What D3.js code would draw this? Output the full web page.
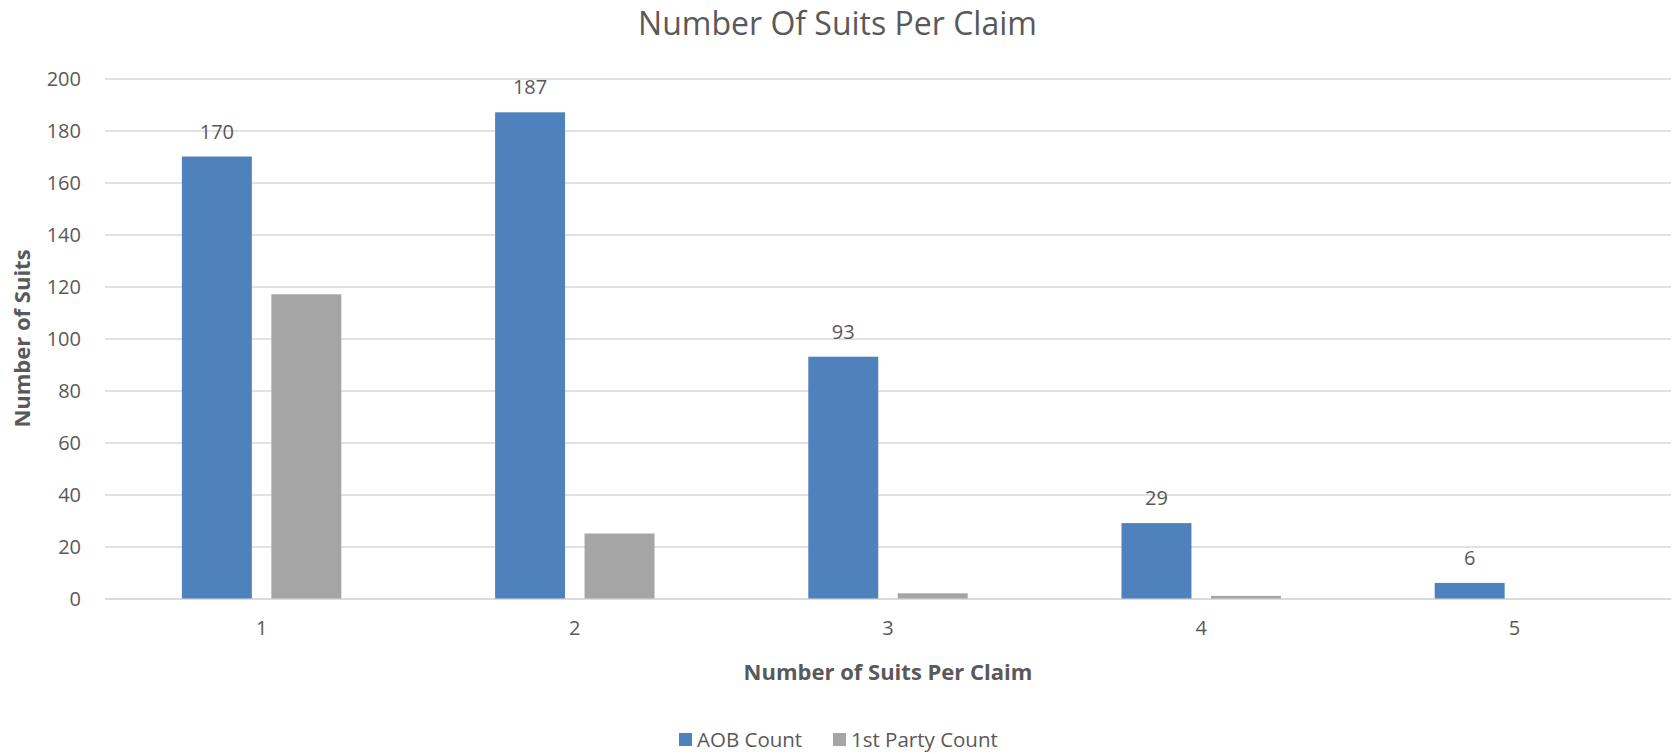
<!DOCTYPE html>
<html>
<head>
<meta charset="utf-8">
<script src="https://cdn.jsdelivr.net/npm/d3@7"></script>
<style>
    body { margin: 0; background: #fff; }
    text { font-family: "Open Sans", sans-serif; fill: #595959; }
    .axis path, .axis line { stroke: #d9d9d9; }
</style>
</head>
<body>
<div id="chart"></div>
<script>
// Data
const categories = ['1', '2', '3', '4', '5'];
const aobCount = [170, 187, 93, 29, 6];
const firstPartyCount = [117, 25, 2, 1, 0];
const seriesNames = ['AOB Count', '1st Party Count'];
const seriesColors = ['#4f81bd', '#a5a5a5'];
const yTicks = [0, 20, 40, 60, 80, 100, 120, 140, 160, 180, 200];

const dataSet = categories.map((c, i) => ({
    cat: c,
    values: [aobCount[i], firstPartyCount[i]]
}));

// Dimensions
let dimensions = {
    width: 1675,
    height: 754,
    margin: {
        top: 78.5,
        bottom: 155.5,
        left: 105,
        right: 4
    }
};
dimensions.ctrWidth = dimensions.width - dimensions.margin.left - dimensions.margin.right;
dimensions.ctrHeight = dimensions.height - dimensions.margin.top - dimensions.margin.bottom;

// Scales
const xScale = d3.scaleBand()
    .domain(categories)
    .range([0, dimensions.ctrWidth]);

const groupWidth = xScale.bandwidth() * 0.509;
const xSeries = d3.scaleBand()
    .domain(d3.range(seriesNames.length))
    .range([0, groupWidth])
    .paddingInner(0.218);

const yScale = d3.scaleLinear()
    .domain([0, 200])
    .range([dimensions.ctrHeight, 0]);

// Draw Image
const svg = d3.select('#chart')
    .append('svg')
    .attr('width', dimensions.width)
    .attr('height', dimensions.height);

svg.append('text')
    .attr('x', dimensions.width / 2)
    .attr('y', 35)
    .attr('text-anchor', 'middle')
    .style('font-size', '32px')
    .text('Number Of Suits Per Claim');

const ctr = svg.append('g')
    .attr('transform', `translate(${dimensions.margin.left},${dimensions.margin.top})`);

// Axes
const yAxis = d3.axisLeft(yScale)
    .tickValues(yTicks)
    .tickSize(-dimensions.ctrWidth)
    .tickPadding(24);

const yAxisGroup = ctr.append('g')
    .classed('axis', true)
    .call(yAxis);
yAxisGroup.select('.domain').remove();
yAxisGroup.selectAll('line').attr('stroke-width', 1.5);
yAxisGroup.selectAll('text')
    .style('font-size', '20px')
    .attr('dy', '0.36em');

const xAxis = d3.axisBottom(xScale)
    .tickSize(0)
    .tickPadding(22);

const xAxisGroup = ctr.append('g')
    .classed('axis', true)
    .attr('transform', `translate(0,${dimensions.ctrHeight})`)
    .call(xAxis);
xAxisGroup.select('.domain').attr('stroke-width', 1.5);
xAxisGroup.selectAll('text').style('font-size', '20px');

// Bars
const groups = ctr.selectAll('.group')
    .data(dataSet)
    .join('g')
    .attr('class', 'group')
    .attr('transform', d => `translate(${xScale(d.cat) + (xScale.bandwidth() - groupWidth) / 2},0)`);

groups.selectAll('rect')
    .data(d => d.values)
    .join('rect')
    .attr('x', (d, i) => xSeries(i))
    .attr('y', d => yScale(d))
    .attr('width', xSeries.bandwidth())
    .attr('height', d => dimensions.ctrHeight - yScale(d))
    .attr('fill', (d, i) => seriesColors[i]);

// Data labels (AOB only)
groups.append('text')
    .attr('x', xSeries(0) + xSeries.bandwidth() / 2)
    .attr('y', d => yScale(d.values[0]) - 18)
    .attr('text-anchor', 'middle')
    .style('font-size', '20px')
    .text(d => d.values[0]);

// Axis titles
svg.append('text')
    .attr('x', 888)
    .attr('y', 680)
    .attr('text-anchor', 'middle')
    .style('font-size', '22px')
    .style('font-weight', 'bold')
    .text('Number of Suits Per Claim');

svg.append('text')
    .attr('transform', `translate(30,${dimensions.margin.top + dimensions.ctrHeight / 2}) rotate(-90)`)
    .attr('text-anchor', 'middle')
    .style('font-size', '22px')
    .style('font-weight', 'bold')
    .text('Number of Suits');

// Legend
const legendX = [679, 833];
const legend = svg.selectAll('.legend')
    .data(seriesNames)
    .join('g')
    .attr('class', 'legend')
    .attr('transform', (d, i) => `translate(${legendX[i]},733)`);

legend.append('rect')
    .attr('width', 13)
    .attr('height', 13)
    .attr('fill', (d, i) => seriesColors[i]);

legend.append('text')
    .attr('x', 18)
    .attr('y', 14)
    .style('font-size', '20.5px')
    .text(d => d);
</script>
</body>
</html>
